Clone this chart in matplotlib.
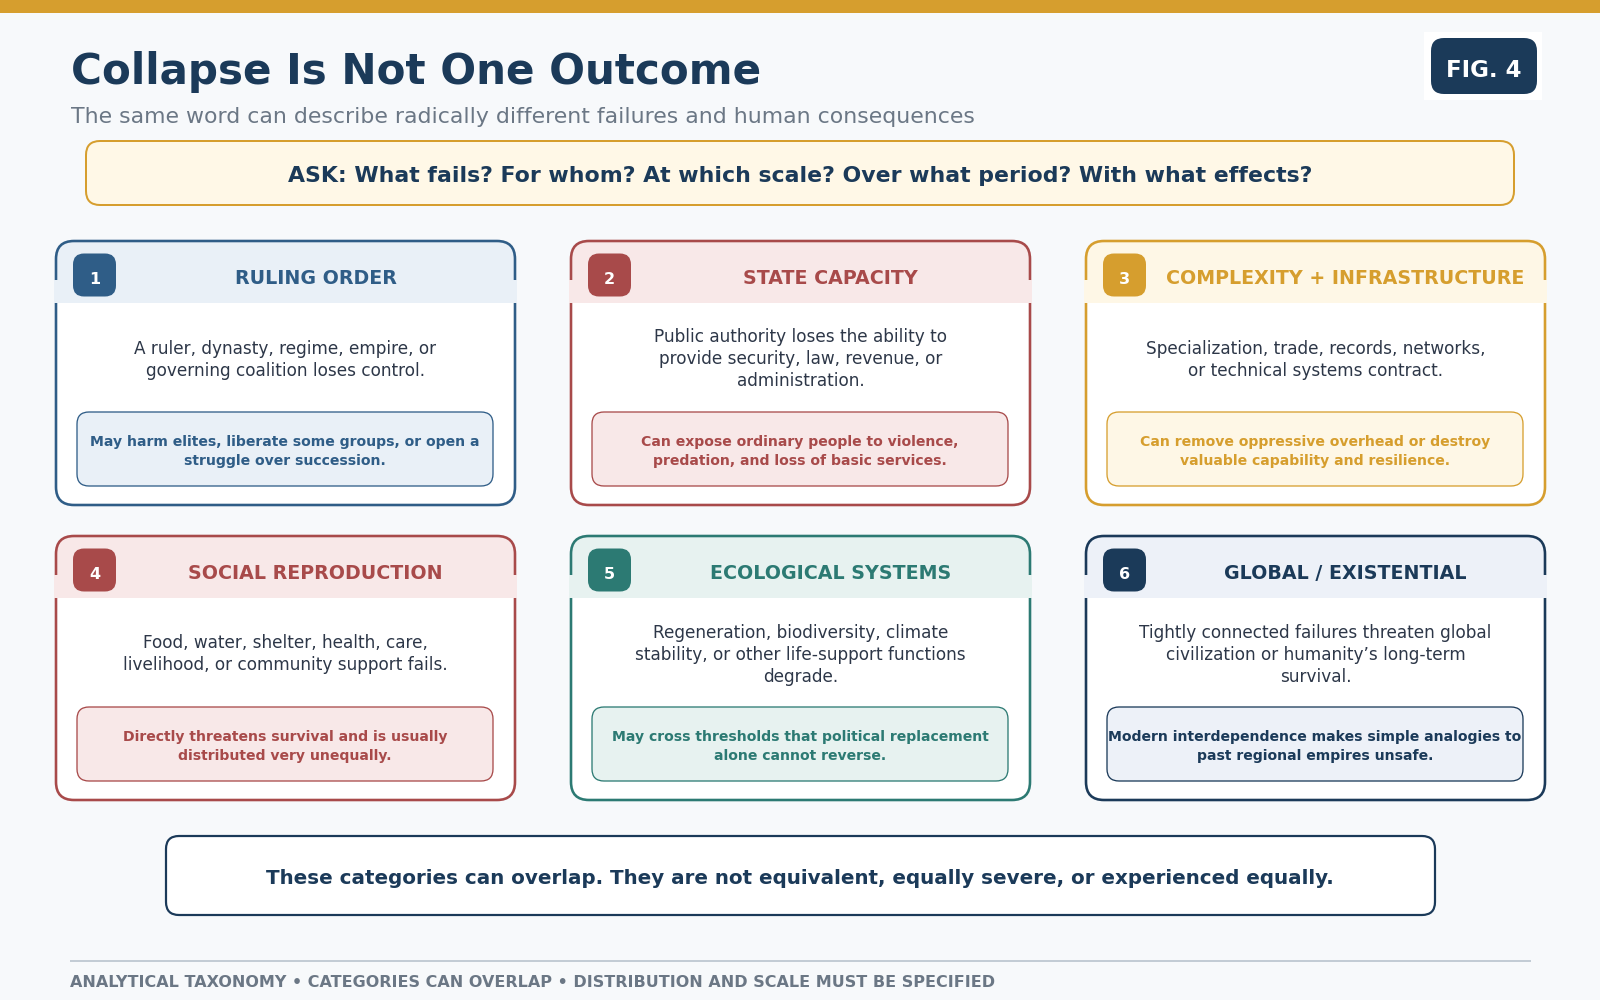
import matplotlib
matplotlib.use("Agg")
import matplotlib.pyplot as plt
from matplotlib.patches import FancyBboxPatch, Rectangle

# ---- content ----
title = "Collapse Is Not One Outcome"
subtitle = "The same word can describe radically different failures and human consequences"
fig_label = "FIG. 4"
ask_text = "ASK: What fails? For whom? At which scale? Over what period? With what effects?"
bottom_note = "These categories can overlap. They are not equivalent, equally severe, or experienced equally."
footer = "ANALYTICAL TAXONOMY \u2022 CATEGORIES CAN OVERLAP \u2022 DISTRIBUTION AND SCALE MUST BE SPECIFIED"

card_numbers = ["1", "2", "3", "4", "5", "6"]
card_titles = ["RULING ORDER", "STATE CAPACITY", "COMPLEXITY + INFRASTRUCTURE",
               "SOCIAL REPRODUCTION", "ECOLOGICAL SYSTEMS", "GLOBAL / EXISTENTIAL"]
card_bodies = [
    ["A ruler, dynasty, regime, empire, or", "governing coalition loses control."],
    ["Public authority loses the ability to", "provide security, law, revenue, or", "administration."],
    ["Specialization, trade, records, networks,", "or technical systems contract."],
    ["Food, water, shelter, health, care,", "livelihood, or community support fails."],
    ["Regeneration, biodiversity, climate", "stability, or other life-support functions", "degrade."],
    ["Tightly connected failures threaten global", "civilization or humanity\u2019s long-term", "survival."],
]
card_notes = [
    ["May harm elites, liberate some groups, or open a", "struggle over succession."],
    ["Can expose ordinary people to violence,", "predation, and loss of basic services."],
    ["Can remove oppressive overhead or destroy", "valuable capability and resilience."],
    ["Directly threatens survival and is usually", "distributed very unequally."],
    ["May cross thresholds that political replacement", "alone cannot reverse."],
    ["Modern interdependence makes simple analogies to", "past regional empires unsafe."],
]

# ---- styling ----
NAVY = "#1b3a59"
GOLD = "#d69e2e"
BG = "#f7f9fb"
BODY = "#2d3748"
GRAY = "#6b7785"
accent = ["#2f5d87", "#a84a4a", "#d69e2e", "#a84a4a", "#2c7a73", "#1b3a59"]
tint = ["#e9f0f7", "#f8e8e8", "#fef7e6", "#f8e8e8", "#e7f2f0", "#edf1f8"]


def px(v):
    # pixel width -> points at dpi 100
    return v * 0.72


def rbox(ax, x, y, w, h, r, fc, ec="none", lw=0, z=2):
    p = FancyBboxPatch((x, y), w, h, boxstyle=f"round,pad=0,rounding_size={r}",
                       fc=fc, ec=ec, lw=lw, zorder=z)
    ax.add_patch(p)
    return p


fig = plt.figure(figsize=(16, 10), dpi=100, facecolor=BG)
ax = fig.add_axes([0, 0, 1, 1])
ax.set_xlim(0, 1600)
ax.set_ylim(1000, 0)
ax.axis("off")
ax.set_facecolor(BG)

# top bar
ax.add_patch(Rectangle((0, 0), 1600, 12.5, fc=GOLD, ec="none", zorder=2))

# title block
ax.text(71, 84, title, fontsize=30.3, fontweight="bold", color=NAVY, va="baseline", ha="left")
ax.text(71, 123, subtitle, fontsize=15.8, color=GRAY, va="baseline", ha="left")

# figure label
ax.add_patch(Rectangle((1424, 32), 118, 68, fc="white", ec="none", zorder=2))
rbox(ax, 1431, 38, 106, 56, 13, NAVY, z=3)
ax.text(1484, 77, fig_label, fontsize=16.5, fontweight="bold", color="white",
        ha="center", va="baseline", zorder=4)

# ask banner
rbox(ax, 86, 141, 1428, 64, 14, "#fff8e7", GOLD, px(2), z=2)
ax.text(800, 182, ask_text, fontsize=15.85, fontweight="bold", color=NAVY,
        ha="center", va="baseline", zorder=3)

# cards
col_x = [56, 571, 1086]
row_y = [241, 536]
cw, ch = 459, 264
for i in range(6):
    x = col_x[i % 3]
    top = row_y[i // 3]
    c, t = accent[i], tint[i]
    rbox(ax, x, top, cw, ch, 18, "white", z=2)
    rbox(ax, x, top, cw, 62, 18, t, z=3)
    ax.add_patch(Rectangle((x, top + 30), cw, 32, fc=t, ec="none", zorder=3))
    rbox(ax, x, top, cw, ch, 18, "none", c, px(2.6), z=4)
    ax.add_patch(Rectangle((x - 2, top + 39), cw + 4, 23, fc=t, ec="none", zorder=5))
    # badge
    rbox(ax, x + 17, top + 12.5, 43, 43, 11, c, z=6)
    ax.text(x + 38.5, top + 43, card_numbers[i], fontsize=11.5, fontweight="bold",
            color="white", ha="center", va="baseline", zorder=7)
    ax.text((x + 60 + x + cw) / 2, top + 43.3, card_titles[i], fontsize=13.65,
            fontweight="bold", color=c, ha="center", va="baseline", zorder=7)
    # body
    lines = card_bodies[i]
    n = len(lines)
    for j, line in enumerate(lines):
        ax.text(x + cw / 2, top + 123.5 + (j - (n - 1) / 2) * 22, line, fontsize=12.2,
                color=BODY, ha="center", va="baseline", zorder=7)
    # note box
    rbox(ax, x + 21, top + 171, 416, 74, 12, t, c, px(1.3), z=6)
    notes = card_notes[i]
    m = len(notes)
    for j, line in enumerate(notes):
        ax.text(x + 21 + 208, top + 214.8 + (j - (m - 1) / 2) * 19, line, fontsize=10.05,
                fontweight="bold", color=c, ha="center", va="baseline", zorder=7)

# bottom note
rbox(ax, 166, 836, 1269, 79, 13, "white", NAVY, px(2.2), z=2)
ax.text(800, 884, bottom_note, fontsize=14.3, fontweight="bold", color=NAVY,
        ha="center", va="baseline", zorder=3)

# footer
ax.plot([70, 1531], [961, 961], color="#c3ccd5", lw=px(2), zorder=2, solid_capstyle="butt")
ax.text(70, 987, footer, fontsize=11.5, fontweight="bold", color=GRAY,
        ha="left", va="baseline", zorder=3)

fig.savefig("out.png", dpi=100, facecolor=BG)
